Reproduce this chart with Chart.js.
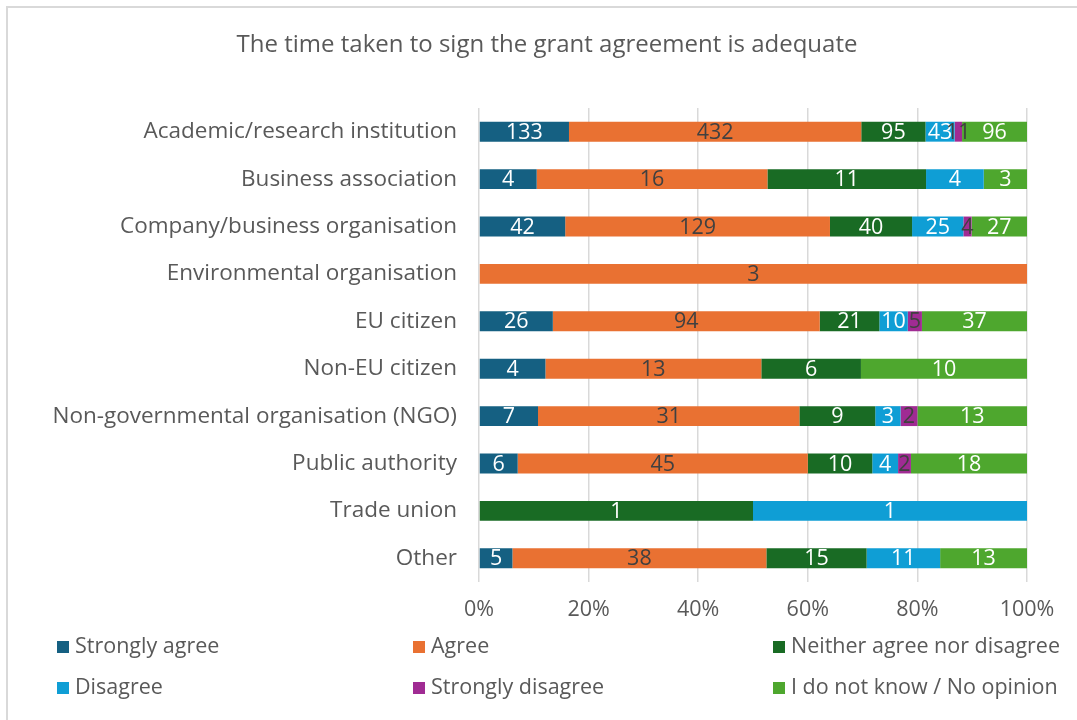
<!DOCTYPE html>
<html>
<head>
<meta charset="utf-8">
<script src="https://cdn.jsdelivr.net/npm/chart.js@4.4.1/dist/chart.umd.min.js"></script>
<style>
  html, body { margin: 0; padding: 0; background: #fff; }
  #wrap { position: relative; width: 1077px; height: 720px; overflow: hidden; }
  #frame { position: absolute; left: 6px; top: 6px; width: 1200px; height: 800px;
           border-left: 2px solid #d9d9d9; border-top: 2px solid #d9d9d9; box-sizing: border-box; }
  #chart { position: absolute; left: 0; top: 0; }
  .leg { position: absolute; font-family: 'Open Sans', sans-serif; font-size: 21.5px; color: #595959;
         white-space: nowrap; line-height: 24px; }
  .leg span { display: inline-block; width: 12px; height: 12px; margin-right: 6px; vertical-align: 0px; }
</style>
</head>
<body>
<div id="wrap">
  <div id="frame"></div>
  <canvas id="chart" width="1077" height="720"></canvas>
  <div id="legend"></div>
</div>
<script>
// categories and answers
const categories = [
  'Academic/research institution',
  'Business association',
  'Company/business organisation',
  'Environmental organisation',
  'EU citizen',
  'Non-EU citizen',
  'Non-governmental organisation (NGO)',
  'Public authority',
  'Trade union',
  'Other'
];
const stronglyAgree    = [133, 4, 42, 0, 26, 4, 7, 6, 0, 5];
const agree            = [432, 16, 129, 3, 94, 13, 31, 45, 0, 38];
const neither          = [95, 11, 40, 0, 21, 6, 9, 10, 1, 15];
const disagree         = [43, 4, 25, 0, 10, 0, 3, 4, 1, 11];
const stronglyDisagree = [11, 0, 4, 0, 5, 0, 2, 2, 0, 0];
const noOpinion        = [96, 3, 27, 0, 37, 10, 13, 18, 0, 13];
const xTicks = [0, 0.2, 0.4, 0.6, 0.8, 1];
const chartTitle = 'The time taken to sign the grant agreement is adequate';

const series = [
  { name: 'Strongly agree', values: stronglyAgree, color: '#156082', text: '#ffffff' },
  { name: 'Agree', values: agree, color: '#E97132', text: '#404040' },
  { name: 'Neither agree nor disagree', values: neither, color: '#196B24', text: '#ffffff' },
  { name: 'Disagree', values: disagree, color: '#0F9ED5', text: '#ffffff' },
  { name: 'Strongly disagree', values: stronglyDisagree, color: '#A02B93', text: '#404040' },
  { name: 'I do not know / No opinion', values: noOpinion, color: '#4EA72E', text: '#ffffff' }
];

const totals = categories.map((c, i) => series.reduce((s, d) => s + d.values[i], 0));

const FONT = "'Open Sans', sans-serif";
const FSIZE = 21.5;

// writes the counts in the middle of each segment + the title
const segLabels = {
  id: 'segLabels',
  afterDatasetsDraw(chart) {
    const ctx = chart.ctx;
    ctx.save();
    ctx.font = FSIZE + 'px ' + FONT;
    ctx.textAlign = 'center';
    ctx.textBaseline = 'middle';
    chart.data.datasets.forEach((ds, di) => {
      const meta = chart.getDatasetMeta(di);
      meta.data.forEach((bar, i) => {
        const v = ds.counts[i];
        if (!v) return;
        const x = (bar.x + bar.base) / 2;
        ctx.fillStyle = ds.textColor;
        ctx.fillText(String(v), x, bar.y + 1);
      });
    });
    ctx.font = '24px ' + FONT;
    ctx.fillStyle = '#595959';
    ctx.fillText(chartTitle, 547, 45);
    ctx.restore();
  }
};

new Chart(document.getElementById('chart'), {
  type: 'bar',
  data: {
    labels: categories,
    datasets: series.map(s => ({
      label: s.name,
      data: s.values.map((v, i) => v / totals[i]),
      counts: s.values,
      textColor: s.text,
      backgroundColor: s.color,
      borderWidth: 0,
      barPercentage: 0.42,
      categoryPercentage: 1
    }))
  },
  options: {
    indexAxis: 'y',
    responsive: false,
    animation: false,
    layout: { padding: { top: 108, right: 50, bottom: 98, left: 0 } },
    plugins: {
      legend: { display: false },
      tooltip: { enabled: false },
      title: { display: false }
    },
    scales: {
      x: {
        stacked: true,
        min: 0,
        max: 1,
        afterBuildTicks(scale) { scale.ticks = xTicks.map(v => ({ value: v })); },
        afterFit(scale) { scale.height = 40; },
        ticks: {
          callback: v => Math.round(v * 100) + '%',
          color: '#595959',
          font: { family: FONT, size: FSIZE },
          padding: 15
        },
        grid: { color: '#d9d9d9', lineWidth: 1.5, drawTicks: false },
        border: { display: false }
      },
      y: {
        stacked: true,
        afterFit(scale) { scale.width = 479; },
        ticks: {
          color: '#595959',
          font: { family: FONT, size: 22.5 },
          padding: 14
        },
        grid: { display: false },
        border: { display: false }
      }
    }
  },
  plugins: [segLabels]
});

// legend in a 3 x 2 grid
const legendPos = [[57, 633], [413, 633], [773, 633], [57, 674], [413, 674], [773, 674]];
const legend = document.getElementById('legend');
series.forEach((s, i) => {
  const d = document.createElement('div');
  d.className = 'leg';
  d.style.left = legendPos[i][0] + 'px';
  d.style.top = legendPos[i][1] + 'px';
  d.innerHTML = '<span style="background:' + s.color + '"></span>' + s.name;
  legend.appendChild(d);
});
</script>
</body>
</html>
